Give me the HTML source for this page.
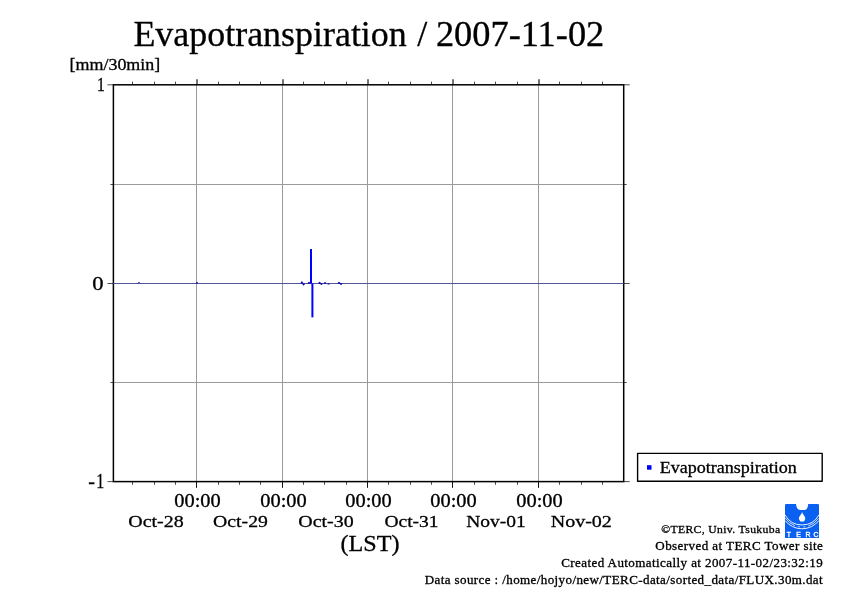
<!DOCTYPE html>
<html lang="en">
<head>
<meta charset="utf-8">
<title>Evapotranspiration / 2007-11-02</title>
<style>
html,body{margin:0;padding:0;background:#fff;}
body{width:842px;height:595px;overflow:hidden;}
svg{display:block;}
text{font-family:"Liberation Serif",serif;fill:#000;stroke:#000;stroke-width:0.3px;}
</style>
</head>
<body>
<svg width="842" height="595" viewBox="0 0 842 595">
<rect x="0" y="0" width="842" height="595" fill="#fff"/>
<text y="45.6" font-size="36"><tspan x="133.4" textLength="273.4" lengthAdjust="spacingAndGlyphs">Evapotranspiration</tspan><tspan x="408"> </tspan><tspan x="417.3">/</tspan><tspan x="428"> </tspan><tspan x="435.9" textLength="168.4" lengthAdjust="spacingAndGlyphs">2007-11-02</tspan></text>
<text x="69.5" y="70.4" font-size="17" textLength="90.8" lengthAdjust="spacingAndGlyphs">[mm/30min]</text>
<g stroke="#9a9a9a" stroke-width="1" fill="none">
<line x1="196.5" y1="84.8" x2="196.5" y2="481.6"/>
<line x1="282.5" y1="84.8" x2="282.5" y2="481.6"/>
<line x1="367.5" y1="84.8" x2="367.5" y2="481.6"/>
<line x1="452.5" y1="84.8" x2="452.5" y2="481.6"/>
<line x1="538.5" y1="84.8" x2="538.5" y2="481.6"/>
<line x1="113.4" y1="184.5" x2="623.7" y2="184.5"/>
<line x1="113.4" y1="382.5" x2="623.7" y2="382.5"/>
</g>
<g stroke="#222" stroke-width="0.8" fill="none">
<line x1="107.4" y1="84.8" x2="113.4" y2="84.8"/>
<line x1="623.7" y1="84.8" x2="629.7" y2="84.8"/>
<line x1="110.4" y1="184.5" x2="113.4" y2="184.5"/>
<line x1="623.7" y1="184.5" x2="626.7" y2="184.5"/>
<line x1="107.4" y1="283.5" x2="113.4" y2="283.5"/>
<line x1="623.7" y1="283.5" x2="629.7" y2="283.5"/>
<line x1="110.4" y1="382.5" x2="113.4" y2="382.5"/>
<line x1="623.7" y1="382.5" x2="626.7" y2="382.5"/>
<line x1="107.4" y1="481.6" x2="113.4" y2="481.6"/>
<line x1="623.7" y1="481.6" x2="629.7" y2="481.6"/>
</g>
<g stroke="#111" fill="none">
<line x1="132.5" y1="84.8" x2="132.5" y2="81.6" stroke-width="1" stroke="#4a4a4a"/>
<line x1="132.5" y1="481.6" x2="132.5" y2="484.8" stroke-width="1" stroke="#4a4a4a"/>
<line x1="154.5" y1="84.8" x2="154.5" y2="81.6" stroke-width="1" stroke="#4a4a4a"/>
<line x1="154.5" y1="481.6" x2="154.5" y2="484.8" stroke-width="1" stroke="#4a4a4a"/>
<line x1="175.5" y1="84.8" x2="175.5" y2="81.6" stroke-width="1" stroke="#4a4a4a"/>
<line x1="175.5" y1="481.6" x2="175.5" y2="484.8" stroke-width="1" stroke="#4a4a4a"/>
<line x1="197" y1="84.8" x2="197" y2="79.2" stroke-width="1.4" stroke="#3a3a3a"/>
<line x1="196.5" y1="481.6" x2="196.5" y2="487.8" stroke-width="1"/>
<line x1="218.5" y1="84.8" x2="218.5" y2="81.6" stroke-width="1" stroke="#4a4a4a"/>
<line x1="218.5" y1="481.6" x2="218.5" y2="484.8" stroke-width="1" stroke="#4a4a4a"/>
<line x1="239.5" y1="84.8" x2="239.5" y2="81.6" stroke-width="1" stroke="#4a4a4a"/>
<line x1="239.5" y1="481.6" x2="239.5" y2="484.8" stroke-width="1" stroke="#4a4a4a"/>
<line x1="260.5" y1="84.8" x2="260.5" y2="81.6" stroke-width="1" stroke="#4a4a4a"/>
<line x1="260.5" y1="481.6" x2="260.5" y2="484.8" stroke-width="1" stroke="#4a4a4a"/>
<line x1="283" y1="84.8" x2="283" y2="79.2" stroke-width="1.4" stroke="#3a3a3a"/>
<line x1="282.5" y1="481.6" x2="282.5" y2="487.8" stroke-width="1"/>
<line x1="303.5" y1="84.8" x2="303.5" y2="81.6" stroke-width="1" stroke="#4a4a4a"/>
<line x1="303.5" y1="481.6" x2="303.5" y2="484.8" stroke-width="1" stroke="#4a4a4a"/>
<line x1="324.5" y1="84.8" x2="324.5" y2="81.6" stroke-width="1" stroke="#4a4a4a"/>
<line x1="324.5" y1="481.6" x2="324.5" y2="484.8" stroke-width="1" stroke="#4a4a4a"/>
<line x1="346.5" y1="84.8" x2="346.5" y2="81.6" stroke-width="1" stroke="#4a4a4a"/>
<line x1="346.5" y1="481.6" x2="346.5" y2="484.8" stroke-width="1" stroke="#4a4a4a"/>
<line x1="368" y1="84.8" x2="368" y2="79.2" stroke-width="1.4" stroke="#3a3a3a"/>
<line x1="367.5" y1="481.6" x2="367.5" y2="487.8" stroke-width="1"/>
<line x1="388.5" y1="84.8" x2="388.5" y2="81.6" stroke-width="1" stroke="#4a4a4a"/>
<line x1="388.5" y1="481.6" x2="388.5" y2="484.8" stroke-width="1" stroke="#4a4a4a"/>
<line x1="410.5" y1="84.8" x2="410.5" y2="81.6" stroke-width="1" stroke="#4a4a4a"/>
<line x1="410.5" y1="481.6" x2="410.5" y2="484.8" stroke-width="1" stroke="#4a4a4a"/>
<line x1="431.5" y1="84.8" x2="431.5" y2="81.6" stroke-width="1" stroke="#4a4a4a"/>
<line x1="431.5" y1="481.6" x2="431.5" y2="484.8" stroke-width="1" stroke="#4a4a4a"/>
<line x1="453" y1="84.8" x2="453" y2="79.2" stroke-width="1.4" stroke="#3a3a3a"/>
<line x1="452.5" y1="481.6" x2="452.5" y2="487.8" stroke-width="1"/>
<line x1="474.5" y1="84.8" x2="474.5" y2="81.6" stroke-width="1" stroke="#4a4a4a"/>
<line x1="474.5" y1="481.6" x2="474.5" y2="484.8" stroke-width="1" stroke="#4a4a4a"/>
<line x1="495.5" y1="84.8" x2="495.5" y2="81.6" stroke-width="1" stroke="#4a4a4a"/>
<line x1="495.5" y1="481.6" x2="495.5" y2="484.8" stroke-width="1" stroke="#4a4a4a"/>
<line x1="517.5" y1="84.8" x2="517.5" y2="81.6" stroke-width="1" stroke="#4a4a4a"/>
<line x1="517.5" y1="481.6" x2="517.5" y2="484.8" stroke-width="1" stroke="#4a4a4a"/>
<line x1="539" y1="84.8" x2="539" y2="79.2" stroke-width="1.4" stroke="#3a3a3a"/>
<line x1="538.5" y1="481.6" x2="538.5" y2="487.8" stroke-width="1"/>
<line x1="559.5" y1="84.8" x2="559.5" y2="81.6" stroke-width="1" stroke="#4a4a4a"/>
<line x1="559.5" y1="481.6" x2="559.5" y2="484.8" stroke-width="1" stroke="#4a4a4a"/>
<line x1="581.5" y1="84.8" x2="581.5" y2="81.6" stroke-width="1" stroke="#4a4a4a"/>
<line x1="581.5" y1="481.6" x2="581.5" y2="484.8" stroke-width="1" stroke="#4a4a4a"/>
<line x1="602.5" y1="84.8" x2="602.5" y2="81.6" stroke-width="1" stroke="#4a4a4a"/>
<line x1="602.5" y1="481.6" x2="602.5" y2="484.8" stroke-width="1" stroke="#4a4a4a"/>
</g>
<rect x="113.4" y="84.8" width="510.3" height="396.8" fill="none" stroke="#000" stroke-width="1.5"/>
<line x1="113.4" y1="283.5" x2="623.7" y2="283.5" stroke="#55559c" stroke-width="1"/>
<g stroke="#0000ff" stroke-width="2" fill="none">
<line x1="311" y1="249" x2="311" y2="283.5"/>
<line x1="312.4" y1="283.5" x2="312.4" y2="317.4"/>
</g>
<g stroke="#0a0ab4" stroke-width="1.2" fill="none" stroke-linejoin="round">
<path d="M137.6 283.3 L138.4 282.5 L139.2 282.6 L140.2 283.4" stroke-width="0.9"/>
<path d="M196 282.9 L198 282.9"/>
<path d="M301 283.5 L301.8 281.9 L303.6 284.9 L304.6 283.5"/>
<path d="M308 283.5 L309 282.5 L310 283.5"/>
<path d="M318.6 283.5 L319.6 282.5 L321.4 284.3 L322.4 283.5"/>
<path d="M324 283.5 L325 282.6 L326 283.5"/>
<path d="M327.5 283.9 L329.5 283.9"/>
<path d="M338 283.5 L339 282.5 L341 284.4 L342 283.5"/>
</g>
<text x="96.9" y="90.7" font-size="19" textLength="7.8" lengthAdjust="spacingAndGlyphs">1</text>
<text x="92.3" y="289.6" font-size="18.5" stroke-width="0" textLength="11.3" lengthAdjust="spacingAndGlyphs">0</text>
<text y="488.1" font-size="20"><tspan x="88.2">-</tspan><tspan x="96.3" textLength="8" lengthAdjust="spacingAndGlyphs">1</tspan></text>
<text x="174.3" y="506.6" font-size="18.4" textLength="46.4" lengthAdjust="spacingAndGlyphs">00:00</text>
<text x="260.3" y="506.6" font-size="18.4" textLength="46.4" lengthAdjust="spacingAndGlyphs">00:00</text>
<text x="345.3" y="506.6" font-size="18.4" textLength="46.4" lengthAdjust="spacingAndGlyphs">00:00</text>
<text x="430.3" y="506.6" font-size="18.4" textLength="46.4" lengthAdjust="spacingAndGlyphs">00:00</text>
<text x="516.3" y="506.6" font-size="18.4" textLength="46.4" lengthAdjust="spacingAndGlyphs">00:00</text>
<text x="128.3" y="526.6" font-size="17.7" textLength="55.4" lengthAdjust="spacingAndGlyphs">Oct-28</text>
<text x="213.1" y="526.6" font-size="17.7" textLength="54.8" lengthAdjust="spacingAndGlyphs">Oct-29</text>
<text x="298.3" y="526.6" font-size="17.7" textLength="55.4" lengthAdjust="spacingAndGlyphs">Oct-30</text>
<text x="384.4" y="526.6" font-size="17.7" textLength="54.2" lengthAdjust="spacingAndGlyphs">Oct-31</text>
<text x="466.2" y="526.6" font-size="17.7" textLength="59.5" lengthAdjust="spacingAndGlyphs">Nov-01</text>
<text x="550.7" y="526.6" font-size="17.7" textLength="61.2" lengthAdjust="spacingAndGlyphs">Nov-02</text>
<text x="340.5" y="550.6" font-size="22.8" textLength="59" lengthAdjust="spacingAndGlyphs">(LST)</text>
<rect x="637.6" y="453.4" width="184.6" height="27.9" fill="#fff" stroke="#000" stroke-width="1.4" stroke-linejoin="round"/>
<rect x="647" y="465.2" width="4.5" height="4.5" fill="#0000ff"/>
<text x="659.8" y="472.6" font-size="16" stroke-width="0.45" textLength="137" lengthAdjust="spacingAndGlyphs">Evapotranspiration</text>
<text transform="translate(661.3,532.8) scale(1.07,1)" x="0" y="0" font-size="10.9" stroke-width="0" textLength="111.03" lengthAdjust="spacing">©TERC, Univ. Tsukuba</text>
<text transform="translate(655.3,549.6) scale(1.07,1)" x="0" y="0" font-size="12.2" stroke-width="0" textLength="156.54" lengthAdjust="spacing">Observed at TERC Tower site</text>
<text transform="translate(561.2,566.6) scale(1.07,1)" x="0" y="0" font-size="12.2" stroke-width="0" textLength="244.39" lengthAdjust="spacing">Created Automatically at 2007-11-02/23:32:19</text>
<text transform="translate(424.7,583.5) scale(1.07,1)" x="0" y="0" font-size="12.2" stroke-width="0" textLength="371.96" lengthAdjust="spacing">Data source : /home/hojyo/new/TERC-data/sorted_data/FLUX.30m.dat</text>
<g id="logo" transform="translate(785,504)">
<path d="M1.2 0 H11 C11.3 3 12.8 6 15 6 H19.6 C21.8 6 23 3 23.2 0 H32.8 Q34 0 34 1.2 V34 H0 V1.2 Q0 0 1.2 0 Z" fill="#0a60f0"/>
<path d="M17.1 7.9 C16.6 10.2 13.9 12.2 13.9 14.3 C13.9 15.6 14.8 16.4 15.4 17.6 H18.9 C19.5 16.4 20.3 15.6 20.3 14.3 C20.3 12.2 17.6 10.2 17.1 7.9 Z" fill="#fff"/>
<g fill="none" stroke="#fff" stroke-width="0.9">
<path d="M0 10.8 A19.3 19.3 0 0 0 34 10.8"/>
<path d="M0 13.7 A20.2 20.2 0 0 0 34 13.7" stroke-width="0.75" stroke-dasharray="13 3 2 3.5 2 3 13"/>
<path d="M0 16.5 A21.56 21.56 0 0 0 34 16.5"/>
</g>
<text x="1.8 11.2 20.6 28.4" y="32.5" font-size="6.9" style="font-family:'Liberation Sans',sans-serif;fill:#fff;stroke:#fff;stroke-width:0.35px">TERC</text>
</g>
</svg>
</body>
</html>
